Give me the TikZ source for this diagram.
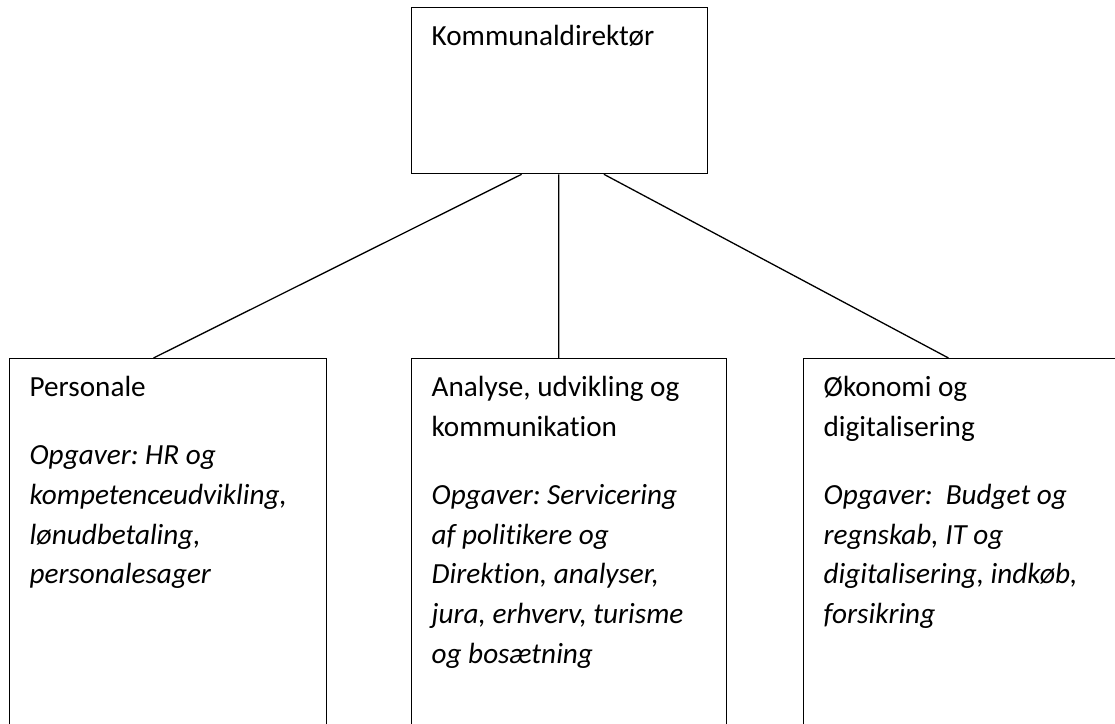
\documentclass[tikz,border=0pt]{standalone}
\usepackage{fontspec}
\setmainfont[Ligatures=NoCommon]{Carlito}
\usetikzlibrary{calc}
\frenchspacing

\tikzset{every picture/.style={line width=1.3pt}}
\tikzset{orgbox/.style={draw, anchor=north west, inner xsep=20pt, inner ysep=0pt, align=left, font=\fontsize{29.2}{39.7}\selectfont}}

\begin{document}
\begin{tikzpicture}[x=1pt,y=1pt,yscale=-1,xscale=1]
%set diagram to the page: 1115 wide, 723 high
\useasboundingbox (0,0) rectangle (1115,723);
\clip (0,0) rectangle (1115,723);
%Shape: Rectangle [id:dir]
\node [orgbox] (dir) at (411,7) {\parbox[t][166pt][t]{256pt}{\rule{0pt}{38pt}Kommunaldirektør}};
%Shape: Rectangle [id:pers]
\node [orgbox] (pers) at (9,358) {\parbox[t][400pt][t]{277pt}{\rule{0pt}{38pt}Personale\\[28.3pt]
	\itshape Opgaver: HR og\\ kompetenceudvikling,\\ lønudbetaling,\\ personalesager}};
%Shape: Rectangle [id:ana]
\node [orgbox] (ana) at (411,358) {\parbox[t][400pt][t]{275pt}{\rule{0pt}{38pt}Analyse, udvikling og\\ kommunikation\\[28.3pt]
	\itshape Opgaver: Servicering\\ af politikere og\\ Direktion, analyser,\\ jura, erhverv, turisme\\ og bosætning}};
%Shape: Rectangle [id:oek]
\node [orgbox] (oek) at (803,358) {\parbox[t][400pt][t]{277pt}{\rule{0pt}{38pt}Økonomi og\\ digitalisering\\[28.3pt]
	\itshape Opgaver:\ \ Budget og\\ regnskab, IT og\\ digitalisering, indkøb,\\ forsikring}};

%Straight Lines
\draw ($(dir.south west)!0.372!(dir.south east)$) -- ($(pers.north west)!0.454!(pers.north east)$);
%Straight Lines
\draw ($(dir.south west)!0.497!(dir.south east)$) -- ($(ana.north west)!0.467!(ana.north east)$);
%Straight Lines
\draw ($(dir.south west)!0.649!(dir.south east)$) -- ($(oek.north west)!0.457!(oek.north east)$);
\end{tikzpicture}
\end{document}
